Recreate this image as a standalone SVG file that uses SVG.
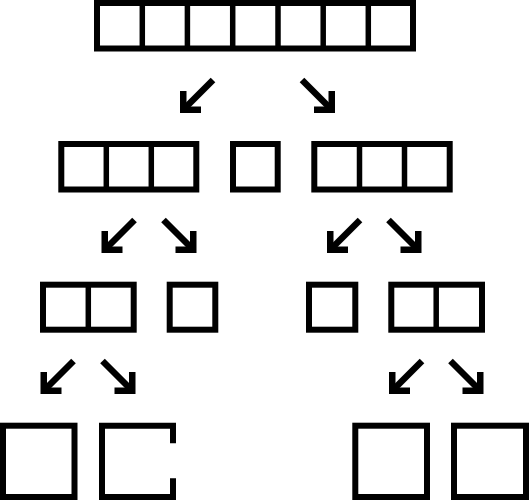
<svg xmlns="http://www.w3.org/2000/svg" xmlns:xlink="http://www.w3.org/1999/xlink" width="529" height="500" viewBox="0 0 529 500">
  <style>
    .box { fill: #fff; stroke: #000; stroke-width: 6; stroke-linejoin: miter; }
    .sep { stroke: #000; stroke-width: 5.5; fill: none; }
    .open { fill: none; stroke: #000; stroke-width: 6; stroke-linejoin: miter; stroke-linecap: butt; }
    .shaft { stroke: #000; stroke-width: 6.5; fill: none; stroke-linecap: butt; }
  </style>
  <defs>
    <g id="arrowDL">
      <line class="shaft" x1="33" y1="-33" x2="4" y2="-4"/>
      <polygon points="0,0 0,-22 6.5,-22 6.5,-6.5 21,-6.5 21,0" fill="#000"/>
    </g>
  </defs>
  <rect width="529" height="500" fill="#fff"/>

  <g id="array7">
    <rect class="box" x="97" y="3" width="316" height="45.5"/>
    <line class="sep" x1="142.3" y1="3" x2="142.3" y2="48.5"/>
    <line class="sep" x1="187.4" y1="3" x2="187.4" y2="48.5"/>
    <line class="sep" x1="232.7" y1="3" x2="232.7" y2="48.5"/>
    <line class="sep" x1="278" y1="3" x2="278" y2="48.5"/>
    <line class="sep" x1="323.2" y1="3" x2="323.2" y2="48.5"/>
    <line class="sep" x1="368.3" y1="3" x2="368.3" y2="48.5"/>
  </g>

  <g id="left3">
    <rect class="box" x="61.3" y="144" width="135" height="45.5"/>
    <line class="sep" x1="106.3" y1="144" x2="106.3" y2="189.5"/>
    <line class="sep" x1="151.3" y1="144" x2="151.3" y2="189.5"/>
  </g>
  <g id="pivot">
    <rect class="box" x="233" y="144" width="44.7" height="45.5"/>
  </g>
  <g id="right3">
    <rect class="box" x="314.3" y="144" width="135.4" height="45.5"/>
    <line class="sep" x1="359.5" y1="144" x2="359.5" y2="189.5"/>
    <line class="sep" x1="404.5" y1="144" x2="404.5" y2="189.5"/>
  </g>

  <g id="left2">
    <rect class="box" x="43" y="284.7" width="90.7" height="45"/>
    <line class="sep" x1="88.3" y1="284.7" x2="88.3" y2="329.7"/>
  </g>
  <g id="left1">
    <rect class="box" x="169.7" y="284.7" width="45.6" height="45"/>
  </g>
  <g id="right1">
    <rect class="box" x="309" y="284.7" width="46.3" height="45"/>
  </g>
  <g id="right2">
    <rect class="box" x="391.3" y="284.7" width="90.7" height="45"/>
    <line class="sep" x1="436.2" y1="284.7" x2="436.2" y2="329.7"/>
  </g>

  <g id="leaf1">
    <rect class="box" x="3" y="425.7" width="71.5" height="71.3"/>
  </g>
  <g id="leaf2">
    <path class="open" d="M173,443.3 V425.7 H102 V497 H173 V478.3"/>
  </g>
  <g id="leaf3">
    <rect class="box" x="355.3" y="425.7" width="71.7" height="71.3"/>
  </g>
  <g id="leaf4">
    <rect class="box" x="454" y="425.7" width="72" height="71.3"/>
  </g>

  <g id="connectors">
    <use xlink:href="#arrowDL" transform="translate(180,113)"/>
    <use xlink:href="#arrowDL" transform="translate(335,113) scale(-1,1)"/>
    <use xlink:href="#arrowDL" transform="translate(101.5,253)"/>
    <use xlink:href="#arrowDL" transform="translate(196.5,253) scale(-1,1)"/>
    <use xlink:href="#arrowDL" transform="translate(327,253)"/>
    <use xlink:href="#arrowDL" transform="translate(421.5,253) scale(-1,1)"/>
    <use xlink:href="#arrowDL" transform="translate(40.5,394)"/>
    <use xlink:href="#arrowDL" transform="translate(135.5,394) scale(-1,1)"/>
    <use xlink:href="#arrowDL" transform="translate(389,394)"/>
    <use xlink:href="#arrowDL" transform="translate(483.5,394) scale(-1,1)"/>
  </g>
</svg>
